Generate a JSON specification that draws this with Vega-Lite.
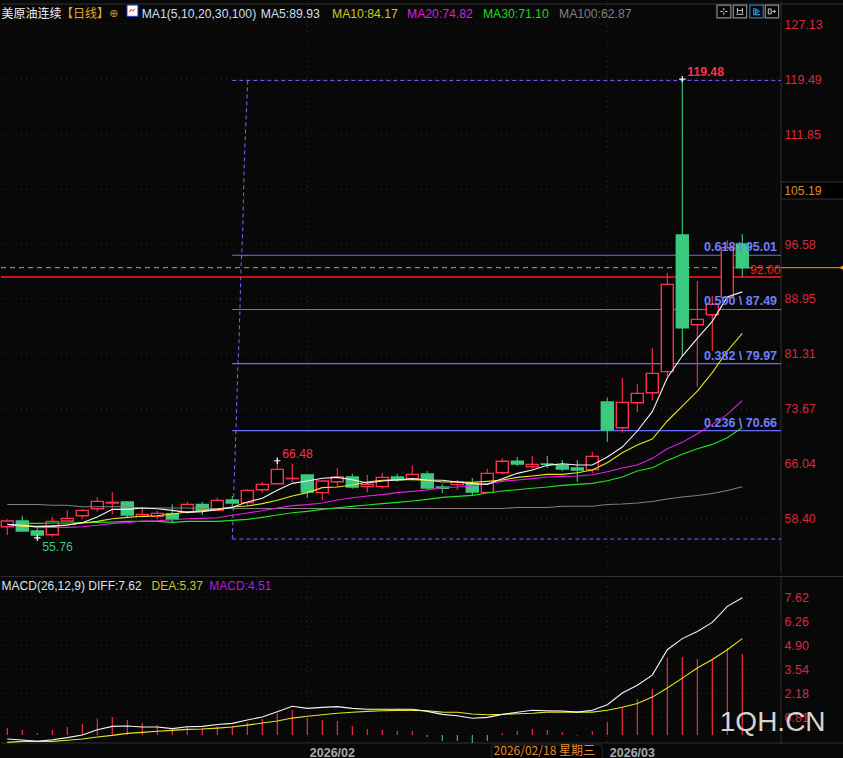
{"$schema":"https://vega.github.io/schema/vega-lite/v6.json","background":"#080808","padding":0,"spacing":0,"config":{"view":{"stroke":null},"concat":{"spacing":0},"scale":{"continuousPadding":0},"axis":{"grid":false},"text":{"font":"Liberation Sans","fontSize":12.2,"baseline":"middle","align":"left"}},
"datasets":{"bars":[
{"i":0,"date":"2026-01-05","open":57.32,"high":58.34,"low":56.16,"close":58.11,"dir":"up","ma5":57.65,"ma10":57.65,"ma20":57.41,"ma100":60.40,"diff":-0.40,"dea":-0.59,"macd":0.22,"hist":"up"},
{"i":1,"date":"2026-01-06","open":58.11,"high":58.80,"low":56.72,"close":56.72,"dir":"down","ma5":57.51,"ma10":57.37,"ma20":57.51,"ma30":57.78,"ma100":60.40,"diff":-0.45,"dea":-0.53,"macd":0.11,"hist":"up"},
{"i":2,"date":"2026-01-07","open":56.72,"high":57.09,"low":55.76,"close":56.16,"dir":"down","ma5":57.32,"ma10":57.37,"ma20":57.18,"ma30":57.78,"ma100":60.40,"diff":-0.53,"dea":-0.53,"macd":-0.06,"hist":"up"},
{"i":3,"date":"2026-01-08","open":56.21,"high":58.66,"low":55.89,"close":58.06,"dir":"up","ma5":57.37,"ma10":57.46,"ma20":57.23,"ma30":57.83,"ma100":60.29,"diff":-0.44,"dea":-0.53,"macd":0.11,"hist":"up"},
{"i":4,"date":"2026-01-09","open":58.11,"high":59.59,"low":58.11,"close":58.48,"dir":"up","ma5":57.55,"ma10":57.55,"ma20":57.23,"ma30":57.83,"ma100":60.29,"diff":-0.32,"dea":-0.47,"macd":0.28,"hist":"up"},
{"i":5,"date":"2026-01-12","open":58.85,"high":59.73,"low":58.39,"close":59.59,"dir":"up","ma5":57.88,"ma10":57.83,"ma20":57.32,"ma30":57.88,"ma100":60.08,"diff":-0.17,"dea":-0.40,"macd":0.45,"hist":"up"},
{"i":6,"date":"2026-01-13","open":59.82,"high":61.44,"low":59.41,"close":60.84,"dir":"up","ma5":58.66,"ma10":58.06,"ma20":57.51,"ma30":57.92,"ma100":60.08,"diff":0.13,"dea":-0.28,"macd":0.75,"hist":"up"},
{"i":7,"date":"2026-01-14","open":60.61,"high":62.14,"low":59.03,"close":60.70,"dir":"up","ma5":59.73,"ma10":58.43,"ma20":57.78,"ma30":57.97,"ma100":60.08,"diff":0.32,"dea":-0.19,"macd":0.85,"hist":"up"},
{"i":8,"date":"2026-01-15","open":60.75,"high":60.89,"low":58.62,"close":58.94,"dir":"down","ma5":59.73,"ma10":58.62,"ma20":57.88,"ma30":58.06,"ma100":60.08,"diff":0.34,"dea":-0.08,"macd":0.68,"hist":"up"},
{"i":9,"date":"2026-01-16","open":58.76,"high":59.96,"low":58.76,"close":59.03,"dir":"up","ma5":59.91,"ma10":58.76,"ma20":58.11,"ma30":58.06,"ma100":59.91,"diff":0.28,"dea":-0.02,"macd":0.51,"hist":"up"},
{"i":10,"date":"2026-01-19","open":58.76,"high":59.50,"low":58.39,"close":59.17,"dir":"up","ma5":59.82,"ma10":58.85,"ma20":58.15,"ma30":58.06,"ma100":59.91,"diff":0.28,"dea":0.04,"macd":0.39,"hist":"up"},
{"i":11,"date":"2026-01-20","open":59.13,"high":60.42,"low":57.92,"close":58.39,"dir":"down","ma5":59.59,"ma10":59.08,"ma20":58.29,"ma30":57.92,"ma100":59.91,"diff":0.19,"dea":0.09,"macd":0.22,"hist":"up"},
{"i":12,"date":"2026-01-21","open":59.36,"high":60.79,"low":59.13,"close":60.42,"dir":"up","ma5":59.31,"ma10":59.36,"ma20":58.43,"ma30":58.06,"ma100":59.91,"diff":0.30,"dea":0.15,"macd":0.32,"hist":"up"},
{"i":13,"date":"2026-01-22","open":60.42,"high":60.75,"low":58.94,"close":59.59,"dir":"down","ma5":59.41,"ma10":59.54,"ma20":58.48,"ma30":58.06,"ma100":59.84,"diff":0.32,"dea":0.17,"macd":0.22,"hist":"up"},
{"i":14,"date":"2026-01-23","open":59.59,"high":61.35,"low":59.50,"close":60.98,"dir":"up","ma5":59.68,"ma10":59.78,"ma20":58.57,"ma30":58.06,"ma100":59.84,"diff":0.43,"dea":0.22,"macd":0.34,"hist":"up"},
{"i":15,"date":"2026-01-26","open":61.03,"high":61.58,"low":60.19,"close":60.61,"dir":"down","ma5":60.01,"ma10":60.05,"ma20":58.90,"ma30":58.20,"ma100":59.84,"diff":0.49,"dea":0.28,"macd":0.34,"hist":"up"},
{"i":16,"date":"2026-01-27","open":60.66,"high":62.51,"low":60.19,"close":62.37,"dir":"up","ma5":60.75,"ma10":60.19,"ma20":59.22,"ma30":58.34,"ma100":59.84,"diff":0.68,"dea":0.39,"macd":0.56,"hist":"up"},
{"i":17,"date":"2026-01-28","open":62.46,"high":63.53,"low":62.04,"close":63.20,"dir":"up","ma5":61.26,"ma10":60.52,"ma20":59.54,"ma30":58.62,"ma100":59.84,"diff":0.85,"dea":0.51,"macd":0.74,"hist":"up"},
{"i":18,"date":"2026-01-29","open":63.29,"high":66.48,"low":63.29,"close":65.28,"dir":"up","ma5":62.37,"ma10":60.98,"ma20":59.91,"ma30":58.94,"ma100":59.84,"diff":1.15,"dea":0.62,"macd":1.07,"hist":"up"},
{"i":19,"date":"2026-01-30","open":64.00,"high":65.98,"low":63.48,"close":64.03,"dir":"up","ma5":63.34,"ma10":61.58,"ma20":60.24,"ma30":59.26,"ma100":59.84,"diff":1.46,"dea":0.79,"macd":1.25,"hist":"up"},
{"i":20,"date":"2026-02-02","open":64.50,"high":64.50,"low":61.35,"close":62.14,"dir":"down","ma5":63.67,"ma10":62.05,"ma20":60.38,"ma30":59.45,"ma100":59.84,"diff":1.34,"dea":0.89,"macd":0.79,"hist":"up"},
{"i":21,"date":"2026-02-03","open":62.05,"high":63.67,"low":61.03,"close":63.67,"dir":"up","ma5":64.04,"ma10":62.74,"ma20":60.61,"ma30":59.73,"ma100":59.84,"diff":1.40,"dea":0.98,"macd":0.68,"hist":"up"},
{"i":22,"date":"2026-02-04","open":63.57,"high":65.47,"low":62.83,"close":64.22,"dir":"up","ma5":64.17,"ma10":62.83,"ma20":61.03,"ma30":59.96,"ma100":59.84,"diff":1.44,"dea":1.06,"macd":0.62,"hist":"up"},
{"i":23,"date":"2026-02-05","open":64.22,"high":64.68,"low":62.60,"close":62.83,"dir":"down","ma5":63.85,"ma10":63.11,"ma20":61.35,"ma30":60.14,"ma100":59.84,"diff":1.34,"dea":1.12,"macd":0.34,"hist":"up"},
{"i":24,"date":"2026-02-06","open":62.88,"high":64.50,"low":62.09,"close":63.20,"dir":"up","ma5":63.39,"ma10":63.53,"ma20":61.58,"ma30":60.33,"ma100":59.84,"diff":1.29,"dea":1.17,"macd":0.17,"hist":"up"},
{"i":25,"date":"2026-02-09","open":62.88,"high":64.78,"low":62.60,"close":64.17,"dir":"up","ma5":63.67,"ma10":63.76,"ma20":61.77,"ma30":60.52,"ma100":59.84,"diff":1.29,"dea":1.21,"macd":0.11,"hist":"up"},
{"i":26,"date":"2026-02-10","open":64.22,"high":64.68,"low":63.57,"close":63.85,"dir":"down","ma5":63.80,"ma10":63.85,"ma20":62.05,"ma30":60.70,"ma100":59.84,"diff":1.29,"dea":1.23,"macd":0.06,"hist":"up"},
{"i":27,"date":"2026-02-11","open":63.99,"high":65.75,"low":63.99,"close":64.59,"dir":"up","ma5":63.99,"ma10":63.85,"ma20":62.23,"ma30":60.89,"ma100":59.84,"diff":1.29,"dea":1.23,"macd":0.06,"hist":"up"},
{"i":28,"date":"2026-02-12","open":64.64,"high":65.05,"low":62.37,"close":62.69,"dir":"down","ma5":63.80,"ma10":63.76,"ma20":62.42,"ma30":61.12,"ma100":59.84,"diff":1.17,"dea":1.21,"macd":-0.28,"hist":"down"},
{"i":29,"date":"2026-02-13","open":62.83,"high":63.25,"low":62.00,"close":62.65,"dir":"down","ma5":63.76,"ma10":63.53,"ma20":62.74,"ma30":61.39,"ma100":59.84,"diff":1.00,"dea":1.13,"macd":-0.51,"hist":"down"},
{"i":30,"date":"2026-02-16","open":63.16,"high":63.80,"low":62.46,"close":63.53,"dir":"up","ma5":63.53,"ma10":63.53,"ma20":62.83,"ma30":61.53,"ma100":59.84,"diff":0.92,"dea":1.12,"macd":-0.51,"hist":"down"},
{"i":31,"date":"2026-02-17","open":63.30,"high":64.08,"low":61.72,"close":62.14,"dir":"down","ma5":63.30,"ma10":63.48,"ma20":62.97,"ma30":61.67,"ma100":59.84,"diff":0.78,"dea":1.02,"macd":-0.62,"hist":"down"},
{"i":32,"date":"2026-02-18","open":62.09,"high":65.38,"low":62.09,"close":64.73,"dir":"up","ma5":63.20,"ma10":63.62,"ma20":63.30,"ma30":62.00,"ma100":59.84,"diff":0.83,"dea":0.98,"macd":-0.51,"hist":"down"},
{"i":33,"date":"2026-02-19","open":64.82,"high":66.81,"low":64.59,"close":66.40,"dir":"up","ma5":63.99,"ma10":63.80,"ma20":63.62,"ma30":62.27,"ma100":59.84,"diff":1.00,"dea":1.00,"macd":-0.06,"hist":"up"},
{"i":34,"date":"2026-02-20","open":66.40,"high":67.00,"low":65.75,"close":66.03,"dir":"down","ma5":64.73,"ma10":64.17,"ma20":63.80,"ma30":62.46,"ma100":59.98,"diff":1.12,"dea":1.04,"macd":0.06,"hist":"up"},
{"i":35,"date":"2026-02-23","open":65.66,"high":67.14,"low":65.38,"close":65.98,"dir":"up","ma5":65.19,"ma10":64.36,"ma20":63.99,"ma30":62.65,"ma100":59.98,"diff":1.23,"dea":1.06,"macd":0.17,"hist":"up"},
{"i":36,"date":"2026-02-24","open":66.03,"high":67.14,"low":65.47,"close":65.98,"dir":"down","ma5":65.84,"ma10":64.59,"ma20":64.22,"ma30":62.83,"ma100":59.98,"diff":1.21,"dea":1.13,"macd":0.11,"hist":"up"},
{"i":37,"date":"2026-02-25","open":65.89,"high":66.58,"low":65.01,"close":65.33,"dir":"down","ma5":66.07,"ma10":64.59,"ma20":64.31,"ma30":63.06,"ma100":60.15,"diff":1.19,"dea":1.13,"macd":0.0,"hist":"up"},
{"i":38,"date":"2026-02-26","open":65.47,"high":66.58,"low":63.57,"close":65.19,"dir":"down","ma5":65.89,"ma10":64.82,"ma20":64.36,"ma30":63.20,"ma100":60.15,"diff":1.13,"dea":1.13,"macd":-0.2,"hist":"down"},
{"i":39,"date":"2026-02-27","open":65.24,"high":67.69,"low":64.77,"close":67.09,"dir":"up","ma5":65.88,"ma10":65.19,"ma20":64.54,"ma30":63.34,"ma100":60.15,"diff":1.23,"dea":1.13,"macd":0.06,"hist":"up"},
{"i":40,"date":"2026-03-02","open":74.63,"high":75.23,"low":69.12,"close":70.74,"dir":"down","ma5":67.00,"ma10":66.21,"ma20":64.96,"ma30":63.71,"ma100":60.40,"diff":1.55,"dea":1.23,"macd":0.56,"hist":"up"},
{"i":41,"date":"2026-03-03","open":71.07,"high":77.97,"low":70.37,"close":74.59,"dir":"up","ma5":68.38,"ma10":67.60,"ma20":65.47,"ma30":64.22,"ma100":60.47,"diff":2.21,"dea":1.40,"macd":1.40,"hist":"up"},
{"i":42,"date":"2026-03-04","open":74.54,"high":77.09,"low":73.24,"close":75.84,"dir":"up","ma5":70.61,"ma10":68.66,"ma20":65.88,"ma30":65.05,"ma100":60.61,"diff":2.65,"dea":1.62,"macd":1.87,"hist":"up"},
{"i":43,"date":"2026-03-05","open":75.93,"high":82.13,"low":74.87,"close":78.62,"dir":"up","ma5":73.29,"ma10":69.50,"ma20":66.81,"ma30":65.51,"ma100":60.82,"diff":3.23,"dea":1.98,"macd":2.44,"hist":"up"},
{"i":44,"date":"2026-03-06","open":78.85,"high":92.55,"low":78.25,"close":90.97,"dir":"up","ma5":78.00,"ma10":72.00,"ma20":68.15,"ma30":66.53,"ma100":61.17,"diff":4.67,"dea":2.50,"macd":4.20,"hist":"up"},
{"i":45,"date":"2026-03-09","open":97.83,"high":119.48,"low":81.02,"close":84.96,"dir":"down","ma5":81.02,"ma10":74.08,"ma20":69.03,"ma30":67.37,"ma100":61.44,"diff":5.30,"dea":3.06,"macd":4.26,"hist":"up"},
{"i":46,"date":"2026-03-10","open":85.37,"high":91.44,"low":76.76,"close":86.11,"dir":"up","ma5":83.47,"ma10":76.16,"ma20":70.24,"ma30":68.15,"ma100":61.65,"diff":5.71,"dea":3.63,"macd":4.14,"hist":"up"},
{"i":47,"date":"2026-03-11","open":86.76,"high":89.35,"low":81.72,"close":88.20,"dir":"up","ma5":85.83,"ma10":78.71,"ma20":71.53,"ma30":68.75,"ma100":61.93,"diff":6.22,"dea":4.12,"macd":4.12,"hist":"up"},
{"i":48,"date":"2026-03-12","open":89.13,"high":97.09,"low":89.13,"close":96.07,"dir":"up","ma5":89.21,"ma10":81.72,"ma20":72.92,"ma30":69.68,"ma100":62.35,"diff":7.13,"dea":4.67,"macd":4.77,"hist":"up"},
{"i":49,"date":"2026-03-13","open":96.58,"high":97.92,"low":92.00,"close":93.29,"dir":"down","ma5":89.93,"ma10":84.17,"ma20":74.82,"ma30":71.10,"ma100":62.87,"diff":7.62,"dea":5.30,"macd":4.42,"hist":"up"}
],
"priceTicks":[{"t":127.13},{"t":119.49},{"t":111.85},{"t":104.21},{"t":96.58},{"t":88.95},{"t":81.31},{"t":73.67},{"t":66.04},{"t":58.40}],
"macdTicks":[{"t":7.62},{"t":6.26},{"t":4.90},{"t":3.54},{"t":2.18},{"t":0.81}],
"fib":[{"ratio":"0.618","price":95.01,"label":"0.618 \\ 95.01"},{"ratio":"0.500","price":87.49,"label":"0.500 \\ 87.49"},{"ratio":"0.382","price":79.97,"label":"0.382 \\ 79.97"},{"ratio":"0.236","price":70.66,"label":"0.236 \\ 70.66"}],
"drawing":[{"i":16.03,"p":119.3},{"i":15.8,"p":108.11},{"i":15.69,"p":97.97},{"i":15.58,"p":93.25},{"i":15.51,"p":87.69},{"i":15.45,"p":83.11},{"i":15.36,"p":78.94},{"i":15.25,"p":71.02},{"i":15.13,"p":64.08},{"i":15.0,"p":55.61}]
},
"vconcat":[
{"width":843,"height":573,
"layer":[
{"data":{"name":"priceTicks"},"mark":{"type":"rule","stroke":"#2b2b2b","strokeDash":[1,4]},"encoding":{"x":{"datum":-0.42,"type":"quantitative","axis":null,"scale":{"domain":[-0.42,55.78],"nice":false,"zero":false}},"x2":{"datum":51.58},"y":{"field":"t","type":"quantitative","scale":{"domain":[50.75,130.33],"nice":false,"zero":false},"axis":{"orient":"right","values":[127.13,119.49,111.85,96.58,88.95,81.31,73.67,66.04,58.40],"tickCount":12,"format":".2f","labelPadding":-60,"labelAlign":"left","labelColor":"#d9283f","labelFont":"Liberation Sans","labelFontSize":12.5,"ticks":false,"domain":false,"grid":false,"title":null,"labelOverlap":false}}}},
{"data":{"values":[{"k":"2026/02","i":20},{"k":"2026/03","i":40}]},"mark":{"type":"rule","stroke":"#2b2b2b","strokeDash":[1,4]},"encoding":{"x":{"field":"i","type":"quantitative","axis":null}}},
{"data":{"values":[{"k":"sep"}]},"mark":{"type":"rule","stroke":"#2e2e2e"},"encoding":{"x":{"datum":51.58,"type":"quantitative","axis":null}}},
{"data":{"values":[{"k":"top"}]},"mark":{"type":"rule","stroke":"#333333"},"encoding":{"x":{"datum":-0.42,"type":"quantitative","axis":null},"x2":{"datum":55.78},"y":{"datum":129.91,"type":"quantitative"}}},
{"data":{"name":"fib"},"mark":{"type":"rule","stroke":"#6b6bff","strokeWidth":1.1},"encoding":{"x":{"datum":15,"type":"quantitative","axis":null},"x2":{"datum":51.58},"y":{"field":"price","type":"quantitative"}}},
{"data":{"values":[{"price":119.3},{"price":55.61}]},"mark":{"type":"rule","stroke":"#6b6bff","strokeWidth":1,"strokeDash":[4,3]},"encoding":{"x":{"datum":15,"type":"quantitative","axis":null},"x2":{"datum":51.58},"y":{"field":"price","type":"quantitative"}}},
{"data":{"name":"drawing"},"mark":{"type":"line","stroke":"#6b6bff","strokeWidth":1,"strokeDash":[4,3]},"encoding":{"x":{"field":"i","type":"quantitative","axis":null},"y":{"field":"p","type":"quantitative"},"order":{"field":"p","sort":"descending"}}},
{"data":{"values":[{"price":93.29}]},"mark":{"type":"rule","stroke":"#f09a2a","strokeWidth":1,"strokeDash":[5,4]},"encoding":{"x":{"datum":-0.42,"type":"quantitative","axis":null},"x2":{"datum":51.58},"y":{"field":"price","type":"quantitative"}}},
{"data":{"values":[{"price":93.29}]},"mark":{"type":"rule","stroke":"#f09a2a","strokeWidth":1},"encoding":{"x":{"datum":51.58,"type":"quantitative","axis":null},"x2":{"datum":55.78},"y":{"field":"price","type":"quantitative"}}},
{"data":{"values":[{"price":93.29}]},"mark":{"type":"point","shape":"triangle-left","filled":true,"size":22,"color":"#f09a2a","opacity":1},"encoding":{"x":{"datum":55.6,"type":"quantitative","axis":null},"y":{"field":"price","type":"quantitative"}}},
{"data":{"values":[{"price":92.0}]},"mark":{"type":"rule","stroke":"#ff1a1a","strokeWidth":1.4},"encoding":{"x":{"datum":-0.42,"type":"quantitative","axis":null},"x2":{"datum":51.58},"y":{"field":"price","type":"quantitative"}}},
{"data":{"name":"bars"},"mark":{"type":"rule","strokeWidth":1.1},"encoding":{"x":{"field":"i","type":"quantitative","axis":null},"y":{"field":"low","type":"quantitative"},"y2":{"field":"high"},"color":{"field":"dir","type":"nominal","scale":{"domain":["up","down"],"range":["#ff2f4f","#3ac97e"]},"legend":null}}},
{"data":{"name":"bars"},"mark":{"type":"bar","size":12,"strokeWidth":1.4},"encoding":{"x":{"field":"i","type":"quantitative","axis":null},"y":{"field":"open","type":"quantitative"},"y2":{"field":"close"},"fill":{"field":"dir","type":"nominal","scale":{"domain":["up","down"],"range":["#000000","#3ac97e"]},"legend":null},"stroke":{"field":"dir","type":"nominal","scale":{"domain":["up","down"],"range":["#ff2f4f","#3ac97e"]},"legend":null}}},
{"data":{"name":"bars"},"mark":{"type":"line","stroke":"#808080","strokeWidth":1.1},"encoding":{"x":{"field":"i","type":"quantitative","axis":null},"y":{"field":"ma100","type":"quantitative"}}},
{"data":{"name":"bars"},"mark":{"type":"line","stroke":"#1ee61e","strokeWidth":1.1},"encoding":{"x":{"field":"i","type":"quantitative","axis":null},"y":{"field":"ma30","type":"quantitative"}}},
{"data":{"name":"bars"},"mark":{"type":"line","stroke":"#e61ee6","strokeWidth":1.1},"encoding":{"x":{"field":"i","type":"quantitative","axis":null},"y":{"field":"ma20","type":"quantitative"}}},
{"data":{"name":"bars"},"mark":{"type":"line","stroke":"#e6e61e","strokeWidth":1.1},"encoding":{"x":{"field":"i","type":"quantitative","axis":null},"y":{"field":"ma10","type":"quantitative"}}},
{"data":{"name":"bars"},"mark":{"type":"line","stroke":"#f5f5f5","strokeWidth":1.1},"encoding":{"x":{"field":"i","type":"quantitative","axis":null},"y":{"field":"ma5","type":"quantitative"}}},
{"data":{"values":[{"i":45,"price":119.48},{"i":18,"price":66.48},{"i":2,"price":55.76}]},"mark":{"type":"point","shape":"M-1,0L1,0M0,-1L0,1","size":40,"filled":false,"stroke":"#ffffff","strokeWidth":1.2,"opacity":1},"encoding":{"x":{"field":"i","type":"quantitative","axis":null},"y":{"field":"price","type":"quantitative"}}},
{"data":{"name":"fib"},"mark":{"type":"text","color":"#6f80ff","fontWeight":"bold","fontSize":12.5,"dy":-8},"encoding":{"x":{"datum":46.45,"type":"quantitative","axis":null},"y":{"field":"price","type":"quantitative"},"text":{"field":"label"}}},
{"data":{"values":[{"i":45,"price":119.48,"label":"119.48"}]},"mark":{"type":"text","color":"#ff2f4f","fontWeight":"bold","dx":5,"dy":-7},"encoding":{"x":{"field":"i","type":"quantitative","axis":null},"y":{"field":"price","type":"quantitative"},"text":{"field":"label"}}},
{"data":{"values":[{"i":18,"price":66.48,"label":"66.48"}]},"mark":{"type":"text","color":"#ff2f4f","dx":5,"dy":-7},"encoding":{"x":{"field":"i","type":"quantitative","axis":null},"y":{"field":"price","type":"quantitative"},"text":{"field":"label"}}},
{"data":{"values":[{"i":2,"price":55.76,"label":"55.76"}]},"mark":{"type":"text","color":"#3ac97e","dx":5,"dy":9},"encoding":{"x":{"field":"i","type":"quantitative","axis":null},"y":{"field":"price","type":"quantitative"},"text":{"field":"label"}}},
{"data":{"values":[{"price":92.0,"label":"92.00"}]},"mark":{"type":"text","color":"#ff1a1a","dy":-7},"encoding":{"x":{"datum":49.51,"type":"quantitative","axis":null},"y":{"field":"price","type":"quantitative"},"text":{"field":"label"}}},
{"data":{"values":[{"k":"box"}]},"mark":{"type":"rect","fill":"#000000","stroke":"#333333"},"encoding":{"x":{"datum":51.6,"type":"quantitative","axis":null},"x2":{"datum":55.78},"y":{"datum":105.19,"type":"quantitative"},"y2":{"datum":102.83}}},
{"data":{"values":[{"label":"105.19"}]},"mark":{"type":"text","color":"#d8902c"},"encoding":{"x":{"datum":51.8,"type":"quantitative","axis":null},"y":{"datum":104.0,"type":"quantitative"},"text":{"field":"label"}}},
{"data":{"values":[{"label":"美原油连续"}]},"mark":{"type":"text","color":"#f0f0f0","font":"Noto Sans CJK SC","fontSize":12},"encoding":{"x":{"datum":-0.39,"type":"quantitative","axis":null},"y":{"datum":128.59,"type":"quantitative"},"text":{"field":"label"}}},
{"data":{"values":[{"label":"【日线】"}]},"mark":{"type":"text","color":"#e8a23c","font":"Noto Sans CJK SC","fontSize":12},"encoding":{"x":{"datum":3.58,"type":"quantitative","axis":null},"y":{"datum":128.59,"type":"quantitative"},"text":{"field":"label"}}},
{"data":{"values":[{"label":"⊕"}]},"mark":{"type":"text","color":"#d8902c","font":"DejaVu Sans","fontSize":11,"align":"center"},"encoding":{"x":{"datum":7.11,"type":"quantitative","axis":null},"y":{"datum":128.5,"type":"quantitative"},"text":{"field":"label"}}},
{"data":{"values":[{"k":"icon"}]},"mark":{"type":"rect","fill":"#ffffff","stroke":"#2a3bd0"},"encoding":{"x":{"datum":7.98,"type":"quantitative","axis":null},"x2":{"datum":8.71},"y":{"datum":129.77,"type":"quantitative"},"y2":{"datum":128.2}}},
{"data":{"values":[{"k":"iconline"}]},"mark":{"type":"point","shape":"M-1,0.6L-0.4,-0.5L0.2,0.2L1,-0.7","size":30,"filled":false,"stroke":"#e0303a","strokeWidth":1,"opacity":1},"encoding":{"x":{"datum":8.34,"type":"quantitative","axis":null},"y":{"datum":129.0,"type":"quantitative"}}},
{"data":{"values":[{"label":"MA1(5,10,20,30,100)"}]},"mark":{"type":"text","color":"#c8def5"},"encoding":{"x":{"datum":8.96,"type":"quantitative","axis":null},"y":{"datum":128.59,"type":"quantitative"},"text":{"field":"label"}}},
{"data":{"values":[{"label":"MA5:89.93"}]},"mark":{"type":"text","color":"#c8def5"},"encoding":{"x":{"datum":16.9,"type":"quantitative","axis":null},"y":{"datum":128.59,"type":"quantitative"},"text":{"field":"label"}}},
{"data":{"values":[{"label":"MA10:84.17"}]},"mark":{"type":"text","color":"#c8c81e"},"encoding":{"x":{"datum":21.65,"type":"quantitative","axis":null},"y":{"datum":128.59,"type":"quantitative"},"text":{"field":"label"}}},
{"data":{"values":[{"label":"MA20:74.82"}]},"mark":{"type":"text","color":"#d81ed8"},"encoding":{"x":{"datum":26.65,"type":"quantitative","axis":null},"y":{"datum":128.59,"type":"quantitative"},"text":{"field":"label"}}},
{"data":{"values":[{"label":"MA30:71.10"}]},"mark":{"type":"text","color":"#1ed81e"},"encoding":{"x":{"datum":31.71,"type":"quantitative","axis":null},"y":{"datum":128.59,"type":"quantitative"},"text":{"field":"label"}}},
{"data":{"values":[{"label":"MA100:62.87"}]},"mark":{"type":"text","color":"#808080"},"encoding":{"x":{"datum":36.78,"type":"quantitative","axis":null},"y":{"datum":128.59,"type":"quantitative"},"text":{"field":"label"}}},
{"data":{"values":[{"i0":47.31,"i1":48.24},{"i0":48.4,"i1":49.29},{"i0":50.53,"i1":51.42}]},"mark":{"type":"rect","fill":"#080808","stroke":"#8c8c8c","strokeWidth":1.2},"encoding":{"x":{"field":"i0","type":"quantitative","axis":null},"x2":{"field":"i1"},"y":{"datum":129.77,"type":"quantitative"},"y2":{"datum":128.0}}},
{"data":{"values":[{"i0":49.5,"i1":50.4}]},"mark":{"type":"rect","fill":"#080808","stroke":"#1a78c8","strokeWidth":1.2},"encoding":{"x":{"field":"i0","type":"quantitative","axis":null},"x2":{"field":"i1"},"y":{"datum":129.77,"type":"quantitative"},"y2":{"datum":128.0}}},
{"data":{"values":[{"i":47.77,"tool":"cross"},{"i":48.84,"tool":"range"},{"i":50.97,"tool":"exit"}]},"mark":{"type":"point","filled":false,"size":50,"stroke":"#c8c8c8","strokeWidth":1,"opacity":1},"encoding":{"x":{"field":"i","type":"quantitative","axis":null},"y":{"datum":128.88,"type":"quantitative"},"shape":{"field":"tool","type":"nominal","scale":{"domain":["cross","range","exit"],"range":["M-1,0L-0.3,0M0.3,0L1,0M0,-1L0,-0.3M0,0.3L0,1","M-0.7,-1L-0.7,0.5M0.7,-1L0.7,0.5M-1,0.8L1,0.8M-0.7,-0.3L0.7,-0.3","M-1,-0.7L-0.2,-0.7L-0.2,0.7L-1,0.7ZM0.1,0L1,0M0.6,-0.4L1,0L0.6,0.4"]},"legend":null}}},
{"data":{"values":[{"i":49.95,"tool":"play"}]},"mark":{"type":"point","filled":false,"size":50,"stroke":"#2a90e0","strokeWidth":1.2,"opacity":1,"shape":"M-0.8,-1L-0.8,0.9L1,0.9M-0.3,-0.7L0.7,0L-0.3,0.6Z"},"encoding":{"x":{"field":"i","type":"quantitative","axis":null},"y":{"datum":128.88,"type":"quantitative"}}}
]},
{"width":843,"height":185,
"layer":[
{"data":{"name":"macdTicks"},"mark":{"type":"rule","stroke":"#2b2b2b","strokeDash":[1,4]},"encoding":{"x":{"datum":-0.42,"type":"quantitative","scale":{"domain":[-0.42,55.78],"nice":false,"zero":false},"axis":{"values":[20,40],"labelExpr":"datum.value==20?'2026/02':'2026/03'","labelAlign":"left","labelPadding":-15,"labelOffset":2,"labelBaseline":"top","labelColor":"#a4aab0","labelFont":"Liberation Sans","labelFontSize":12.5,"labelFontWeight":"bold","ticks":false,"domain":false,"grid":false,"title":null,"labelOverlap":false}},"x2":{"datum":51.58},"y":{"field":"t","type":"quantitative","scale":{"domain":[-1.646,8.854],"nice":false,"zero":false},"axis":{"orient":"right","values":[7.62,6.26,4.90,3.54,2.18,0.81],"tickCount":12,"format":".2f","labelPadding":-60,"labelAlign":"left","labelColor":"#d9283f","labelFont":"Liberation Sans","labelFontSize":12.5,"ticks":false,"domain":false,"grid":false,"title":null,"labelOverlap":false}}}},
{"data":{"values":[{"k":"2026/02","i":20},{"k":"2026/03","i":40}]},"mark":{"type":"rule","stroke":"#2b2b2b","strokeDash":[1,4]},"encoding":{"x":{"field":"i","type":"quantitative"},"y":{"datum":8.854,"type":"quantitative"},"y2":{"datum":-0.624}}},
{"data":{"values":[{"k":"sep"}]},"mark":{"type":"rule","stroke":"#2e2e2e"},"encoding":{"x":{"datum":51.58,"type":"quantitative"},"y":{"datum":8.854,"type":"quantitative"},"y2":{"datum":-0.624}}},
{"data":{"values":[{"v":8.83},{"v":-0.624}]},"mark":{"type":"rule","stroke":"#333333"},"encoding":{"x":{"datum":-0.42,"type":"quantitative"},"x2":{"datum":55.78},"y":{"field":"v","type":"quantitative"}}},
{"data":{"name":"bars"},"mark":{"type":"rule","strokeWidth":1.1},"encoding":{"x":{"field":"i","type":"quantitative"},"y":{"field":"macd","type":"quantitative"},"y2":{"datum":-0.17},"color":{"field":"hist","type":"nominal","scale":{"domain":["up","down"],"range":["#ff2f4f","#3ac97e"]},"legend":null}}},
{"data":{"name":"bars"},"mark":{"type":"line","stroke":"#e6e61e","strokeWidth":1.1},"encoding":{"x":{"field":"i","type":"quantitative"},"y":{"field":"dea","type":"quantitative"}}},
{"data":{"name":"bars"},"mark":{"type":"line","stroke":"#f5f5f5","strokeWidth":1.1},"encoding":{"x":{"field":"i","type":"quantitative"},"y":{"field":"diff","type":"quantitative"}}},
{"data":{"values":[{"label":"MACD(26,12,9) DIFF:7.62"}]},"mark":{"type":"text","color":"#d8e6f5","fontSize":12},"encoding":{"x":{"datum":-0.38,"type":"quantitative"},"y":{"datum":8.29,"type":"quantitative"},"text":{"field":"label"}}},
{"data":{"values":[{"label":"DEA:5.37"}]},"mark":{"type":"text","color":"#c8c81e","fontSize":12},"encoding":{"x":{"datum":9.62,"type":"quantitative"},"y":{"datum":8.29,"type":"quantitative"},"text":{"field":"label"}}},
{"data":{"values":[{"label":"MACD:4.51"}]},"mark":{"type":"text","color":"#b01ee0","fontSize":12},"encoding":{"x":{"datum":13.47,"type":"quantitative"},"y":{"datum":8.29,"type":"quantitative"},"text":{"field":"label"}}},
{"data":{"values":[{"k":"box"}]},"mark":{"type":"rect","fill":"#000000","stroke":"#2a2a2a"},"encoding":{"x":{"datum":32.3,"type":"quantitative"},"x2":{"datum":39.65},"y":{"datum":-0.74,"type":"quantitative"},"y2":{"datum":-1.646}}},
{"data":{"values":[{"label":"2026/02/18 星期三"}]},"mark":{"type":"text","color":"#e8902c","font":"Noto Sans CJK SC","fontSize":12},"encoding":{"x":{"datum":32.42,"type":"quantitative"},"y":{"datum":-1.09,"type":"quantitative"},"text":{"field":"label"}}},
{"data":{"values":[{"label":"1QH.CN"}]},"mark":{"type":"text","color":"#d4d4d4","fontSize":28},"encoding":{"x":{"datum":47.5,"type":"quantitative"},"y":{"datum":0.51,"type":"quantitative"},"text":{"field":"label"}}}
]}
]}
